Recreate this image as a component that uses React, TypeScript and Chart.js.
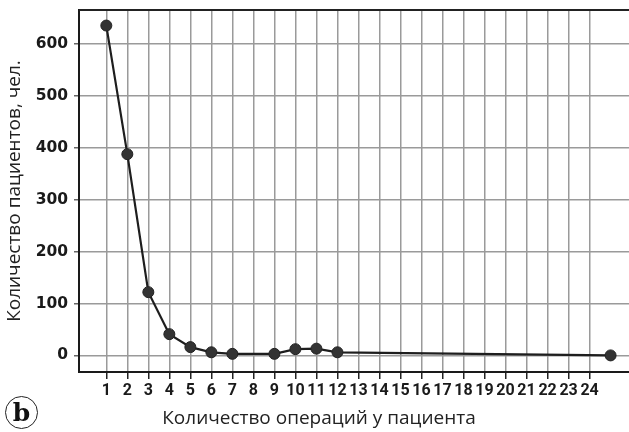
import React, { useEffect, useRef } from "react";
import { Chart, registerables } from "chart.js";

Chart.register(...registerables);

const operationCounts = [1, 2, 3, 4, 5, 6, 7, 9, 10, 11, 12, 25];
const patientCounts = [636, 388, 122, 41, 16, 6, 3, 3, 12, 13, 6, 0];
const xTickValues = [1, 2, 3, 4, 5, 6, 7, 8, 9, 10, 11, 12, 13, 14, 15, 16, 17, 18, 19, 20, 21, 22, 23, 24];
const yTickValues = [0, 100, 200, 300, 400, 500, 600];

const xTitle = "Количество операций у пациента";
const yTitle = "Количество пациентов, чел.";
const TITLE_FAMILY = "'Open Sans', 'Noto Sans', sans-serif";

const extras = {
  id: "extras",
  afterDraw(chart: any) {
    const { ctx, chartArea } = chart;
    ctx.save();
    ctx.strokeStyle = "#222";
    ctx.lineWidth = 2;
    ctx.beginPath();
    ctx.moveTo(chartArea.left, chartArea.top);
    ctx.lineTo(chartArea.right, chartArea.top);
    ctx.stroke();
    ctx.fillStyle = "#222";
    ctx.font = `19px ${TITLE_FAMILY}`;
    ctx.textAlign = "center";
    ctx.textBaseline = "middle";
    ctx.fillText(xTitle, 319, 419);
    ctx.restore();
  },
};

export default function App() {
  const ref = useRef<HTMLCanvasElement | null>(null);

  useEffect(() => {
    if (!ref.current) return;
    const xTickFont = { family: "Roboto, 'Liberation Sans', sans-serif", size: 16, weight: "bold" as const };
    const yTickFont = { family: "'DejaVu Sans', sans-serif", size: 15.5, weight: "bold" as const };
    const titleFont = { family: TITLE_FAMILY, size: 19 };
    const chart = new Chart(ref.current, {
      type: "line",
      data: {
        datasets: [
          {
            data: operationCounts.map((x, i) => ({ x, y: patientCounts[i] })),
            borderColor: "#1e1e1e",
            borderWidth: 2.2,
            pointRadius: 5.5,
            pointBackgroundColor: "#333",
            pointBorderColor: "#222",
            pointBorderWidth: 1,
            tension: 0,
          },
        ],
      },
      options: {
        animation: false,
        responsive: false,
        layout: { padding: { top: 10, left: 0, right: 0, bottom: 0 } },
        plugins: { legend: { display: false }, tooltip: { enabled: false } },
        scales: {
          x: {
            type: "linear",
            min: -0.3,
            max: 25.9,
            afterBuildTicks: (scale: any) => {
              scale.ticks = xTickValues.map((v) => ({ value: v }));
            },
            afterFit: (scale: any) => {
              scale.height = 60;
              scale.paddingLeft = 0;
              scale.paddingRight = 0;
            },
            grid: { color: "#9a9a9a", lineWidth: 1.5, tickLength: 7, tickColor: "#222", tickWidth: 1.5 },
            border: { color: "#1a1a1a", width: 2 },
            ticks: {
              color: "#1a1a1a",
              font: xTickFont,
              padding: 2,
              maxRotation: 0,
              autoSkip: false,
              callback: (v: any) => String(v),
            },
            title: { display: false, text: xTitle },
          },
          y: {
            type: "linear",
            min: -32,
            max: 666,
            afterBuildTicks: (scale: any) => {
              scale.ticks = yTickValues.map((v) => ({ value: v }));
            },
            afterFit: (scale: any) => {
              scale.width = 79;
              scale.paddingTop = 0;
              scale.paddingBottom = 0;
            },
            grid: { color: "#9a9a9a", lineWidth: 1.5, tickLength: 5, tickColor: "#666", tickWidth: 1.5 },
            border: { color: "#1a1a1a", width: 2 },
            ticks: { color: "#1a1a1a", font: yTickFont, padding: 6, callback: (v: any) => String(v) },
            title: { display: true, text: yTitle, color: "#222", font: titleFont, padding: { top: 3, bottom: 0 } },
          },
        },
      },
      plugins: [extras],
    });
    return () => chart.destroy();
  }, []);

  return (
    <div style={{ position: "fixed", left: 0, top: 0, width: 629, height: 432, background: "#fff", overflow: "hidden" }}>
      <canvas ref={ref} width={636} height={432} />
      <div
        style={{
          position: "absolute",
          left: 5,
          top: 396,
          width: 31,
          height: 31,
          border: "1.5px solid #222",
          borderRadius: "50%",
          display: "flex",
          alignItems: "center",
          justifyContent: "center",
          fontFamily: "'DejaVu Serif', 'Liberation Serif', serif",
          fontWeight: "bold",
          fontSize: 25,
          lineHeight: 1,
          color: "#111",
        }}
      >
        b
      </div>
    </div>
  );
}
